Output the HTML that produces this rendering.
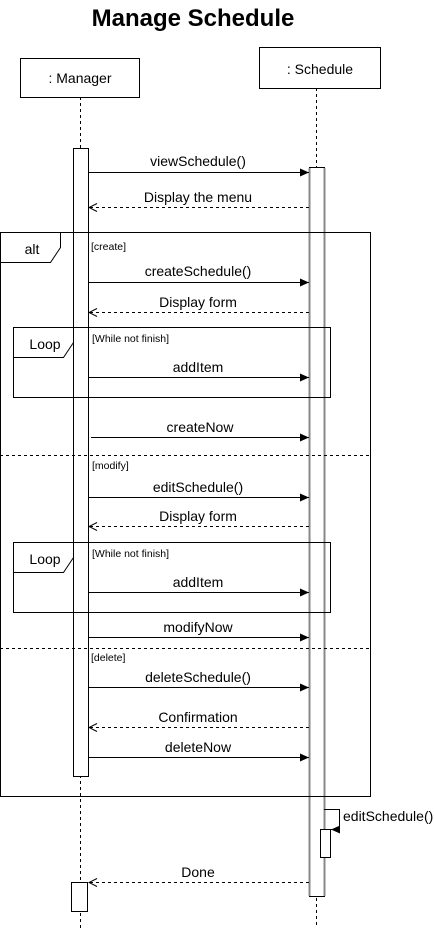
<!DOCTYPE html>
<html><head><style>body{margin:0;background:#fff}svg{display:block}text{font-family:"Liberation Sans",Arial,sans-serif}</style></head><body>
<svg width="434" height="928" xmlns="http://www.w3.org/2000/svg">
<defs>
<marker id="f" markerWidth="10" markerHeight="8" refX="9" refY="4" orient="auto" markerUnits="userSpaceOnUse"><path d="M0,0 L9,4 L0,8 Z" fill="#000"/></marker>
<marker id="o" markerWidth="10" markerHeight="10" refX="9" refY="5" orient="auto" markerUnits="userSpaceOnUse"><path d="M1,1 L9,5 L1,9" fill="none" stroke="#000"/></marker>
</defs>
<text x="193" y="26" font-size="24" font-weight="bold" text-anchor="middle">Manage Schedule</text>
<g stroke="#000" fill="none">
<line x1="80.5" y1="97" x2="80.5" y2="928" stroke-dasharray="3,3"/>
<line x1="316.5" y1="88" x2="316.5" y2="928" stroke-dasharray="3,3"/>
<rect x="20.5" y="58.5" width="119" height="39" fill="#fff"/>
<rect x="259.5" y="47.5" width="121" height="41" fill="#fff"/>
<rect x="73.5" y="148.5" width="15" height="628" fill="#fff"/>
<rect x="309.5" y="167.5" width="15" height="729" fill="#fff"/>
<line x1="309.5" y1="168" x2="309.5" y2="896" stroke="#888" stroke-width="2"/>
<line x1="324.5" y1="168" x2="324.5" y2="896" stroke="#888" stroke-width="2"/>
<rect x="71.5" y="882.5" width="16" height="29" fill="#fff"/>
<rect x="320.5" y="829.5" width="10" height="28" fill="#fff"/>
<rect x="0.5" y="232.5" width="370" height="564"/>
<path d="M0.5,262.5 H50.5 L60.5,247.5 V232.5"/>
<line x1="0" y1="455.5" x2="371" y2="455.5" stroke-dasharray="3,3"/>
<line x1="0" y1="648.5" x2="371" y2="648.5" stroke-dasharray="3,3"/>
<rect x="13.5" y="327.5" width="317" height="70"/>
<path d="M13.5,357.5 H63.5 L73.5,342.5 V327.5"/>
<rect x="13.5" y="542.5" width="317" height="70"/>
<path d="M13.5,572.5 H63.5 L73.5,557.5 V542.5"/>
<g>
<line x1="88" y1="172.5" x2="309" y2="172.5" marker-end="url(#f)"/>
<line x1="309" y1="207.5" x2="89" y2="207.5" stroke-dasharray="3,3" marker-end="url(#o)"/>
<line x1="88" y1="282.5" x2="309" y2="282.5" marker-end="url(#f)"/>
<line x1="309" y1="312.5" x2="89" y2="312.5" stroke-dasharray="3,3" marker-end="url(#o)"/>
<line x1="88" y1="377.5" x2="309" y2="377.5" marker-end="url(#f)"/>
<line x1="91" y1="437.5" x2="309" y2="437.5" marker-end="url(#f)"/>
<line x1="88" y1="497.5" x2="309" y2="497.5" marker-end="url(#f)"/>
<line x1="309" y1="526.5" x2="89" y2="526.5" stroke-dasharray="3,3" marker-end="url(#o)"/>
<line x1="88" y1="592.5" x2="309" y2="592.5" marker-end="url(#f)"/>
<line x1="88" y1="637.5" x2="309" y2="637.5" marker-end="url(#f)"/>
<line x1="88" y1="687.5" x2="309" y2="687.5" marker-end="url(#f)"/>
<line x1="309" y1="727.5" x2="89" y2="727.5" stroke-dasharray="3,3" marker-end="url(#o)"/>
<line x1="88" y1="757.5" x2="309" y2="757.5" marker-end="url(#f)"/>
<line x1="309" y1="882.5" x2="89" y2="882.5" stroke-dasharray="3,3" marker-end="url(#o)"/>
<path d="M324,809.5 H339.5 V829.5 H331" marker-end="url(#f)"/>
</g>
</g>
<g font-size="14" text-anchor="middle">
<text x="80" y="83">: Manager</text>
<text x="320" y="74">: Schedule</text>
<text x="198" y="166">viewSchedule()</text>
<text x="198" y="202">Display the menu</text>
<text x="198" y="276">createSchedule()</text>
<text x="198" y="307">Display form</text>
<text x="198" y="372">addItem</text>
<text x="200" y="432">createNow</text>
<text x="198" y="492">editSchedule()</text>
<text x="198" y="521">Display form</text>
<text x="198" y="587">addItem</text>
<text x="198" y="632">modifyNow</text>
<text x="198" y="682">deleteSchedule()</text>
<text x="198" y="722">Confirmation</text>
<text x="198" y="752">deleteNow</text>
<text x="198" y="877">Done</text>
<text x="32" y="254">alt</text>
<text x="45" y="349">Loop</text>
<text x="45" y="564">Loop</text>
<text x="343" y="821" text-anchor="start">editSchedule()</text>
</g>
<g font-size="10.5">
<text x="91" y="250">[create]</text>
<text x="92" y="342">[While not finish]</text>
<text x="92" y="469">[modify]</text>
<text x="92" y="557">[While not finish]</text>
<text x="91" y="661">[delete]</text>
</g>
</svg>
</body></html>
